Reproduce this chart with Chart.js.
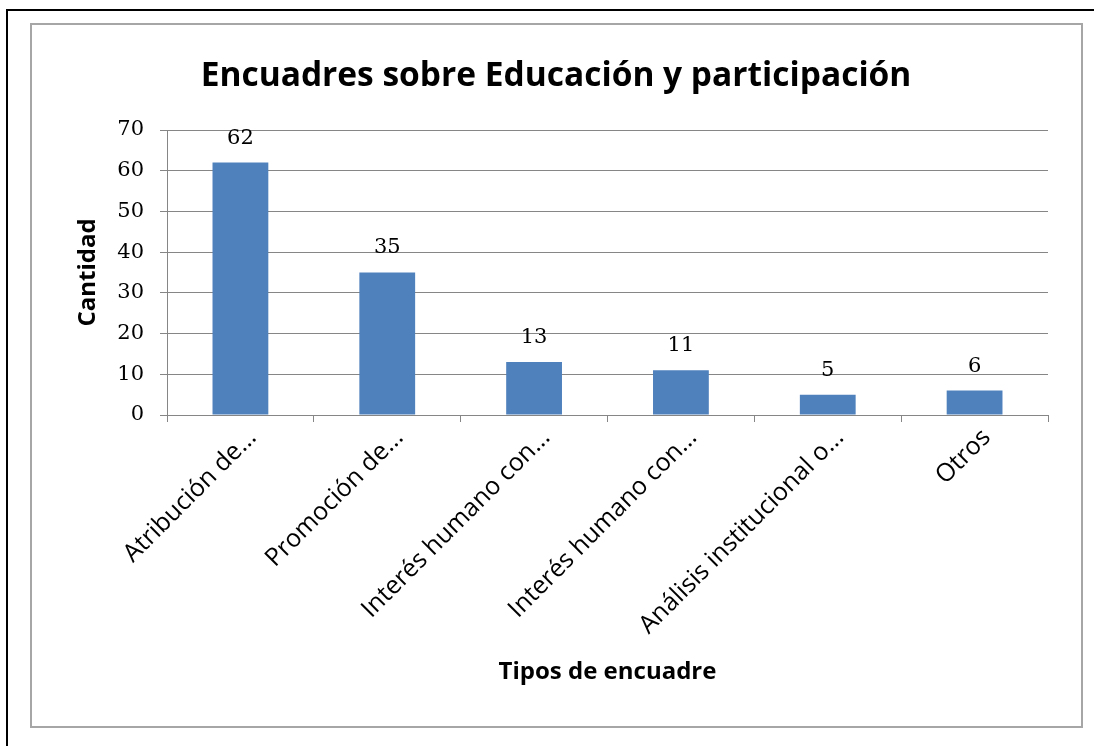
<!DOCTYPE html>
<html>
<head>
<meta charset="utf-8">
<script src="https://cdn.jsdelivr.net/npm/chart.js@4/dist/chart.umd.min.js"></script>
<style>
  html, body { margin: 0; padding: 0; background: #ffffff; }
  #wrap { position: relative; width: 1094px; height: 746px; }
  canvas { display: block; }
</style>
</head>
<body>
<div id="wrap"><canvas id="c" width="1094" height="746"></canvas></div>
<script>
const categories = [
  "Atribución de...",
  "Promoción de...",
  "Interés humano con...",
  "Interés humano con...",
  "Análisis institucional o...",
  "Otros"
];
const values = [62, 35, 13, 11, 5, 6];
const yTicks = [0, 10, 20, 30, 40, 50, 60, 70];
const chartTitle = "Encuadres sobre Educación y participación";
const xTitle = "Tipos de encuadre";
const yTitle = "Cantidad";

const SANS = "'Open Sans', Lato, sans-serif";
const SERIF = "'DejaVu Serif', 'Liberation Serif', serif";

const framePlugin = {
  id: 'frame',
  beforeDraw(chart) {
    const ctx = chart.ctx;
    ctx.save();
    ctx.fillStyle = '#ffffff';
    ctx.fillRect(0, 0, chart.width, chart.height);
    ctx.strokeStyle = '#000000';
    ctx.lineWidth = 2;
    ctx.beginPath();
    ctx.moveTo(1100, 10);
    ctx.lineTo(7, 10);
    ctx.lineTo(7, 760);
    ctx.stroke();
    ctx.strokeStyle = '#a6a6a6';
    ctx.lineWidth = 2;
    ctx.strokeRect(31, 24, 1051, 703);
    ctx.restore();
  }
};

const labelPlugin = {
  id: 'barLabels',
  afterDatasetsDraw(chart) {
    const ctx = chart.ctx;
    const meta = chart.getDatasetMeta(0);
    ctx.save();
    ctx.font = "21px " + SERIF;
    ctx.fillStyle = '#000000';
    ctx.textAlign = 'center';
    ctx.textBaseline = 'bottom';
    meta.data.forEach((bar, i) => {
      ctx.fillText(String(values[i]), bar.x, bar.y - 14);
    });
    ctx.restore();
  }
};

new Chart(document.getElementById('c'), {
  type: 'bar',
  data: {
    labels: categories,
    datasets: [{
      data: values,
      backgroundColor: '#4f81bd',
      borderWidth: 0,
      categoryPercentage: 1.0,
      barPercentage: 0.38
    }]
  },
  options: {
    responsive: false,
    animation: false,
    devicePixelRatio: 1,
    layout: { padding: { left: 64, right: 46, top: 23, bottom: 46 } },
    plugins: {
      legend: { display: false },
      tooltip: { enabled: false },
      title: {
        display: true,
        text: chartTitle,
        color: '#000000',
        font: { family: SANS, size: 33.5, weight: 'bold', lineHeight: 1.2 },
        padding: { top: 33, bottom: 33.8 }
      }
    },
    scales: {
      x: {
        grid: {
          display: true,
          drawOnChartArea: false,
          drawTicks: true,
          tickLength: 7,
          color: '#868686',
          offset: true
        },
        border: { display: true, color: '#868686', width: 1 },
        ticks: {
          color: '#000000',
          font: { family: SANS, size: 25 },
          minRotation: 45,
          maxRotation: 45,
          autoSkip: false,
          padding: 1,
          labelOffset: 12
        },
        title: {
          display: true,
          text: xTitle,
          color: '#000000',
          font: { family: SANS, size: 24, weight: 'bold', lineHeight: 1.2 },
          padding: { top: 0, bottom: 13 }
        },
        afterFit(scale) { scale.height = 285; }
      },
      y: {
        min: 0,
        max: 70,
        afterBuildTicks(scale) { scale.ticks = yTicks.map(v => ({ value: v })); },
        grid: {
          color: '#868686',
          tickLength: 7,
          drawTicks: true
        },
        border: { display: true, color: '#868686', width: 1 },
        ticks: {
          color: '#000000',
          font: { family: SERIF, size: 21 },
          padding: 16
        },
        title: {
          display: true,
          text: yTitle,
          color: '#000000',
          font: { family: SANS, size: 24, weight: 'bold', lineHeight: 1.2 },
          padding: { top: 9.6, bottom: 0 }
        },
        afterFit(scale) { scale.width = 167 - 64; }
      }
    }
  },
  plugins: [framePlugin, labelPlugin]
});
</script>
</body>
</html>
